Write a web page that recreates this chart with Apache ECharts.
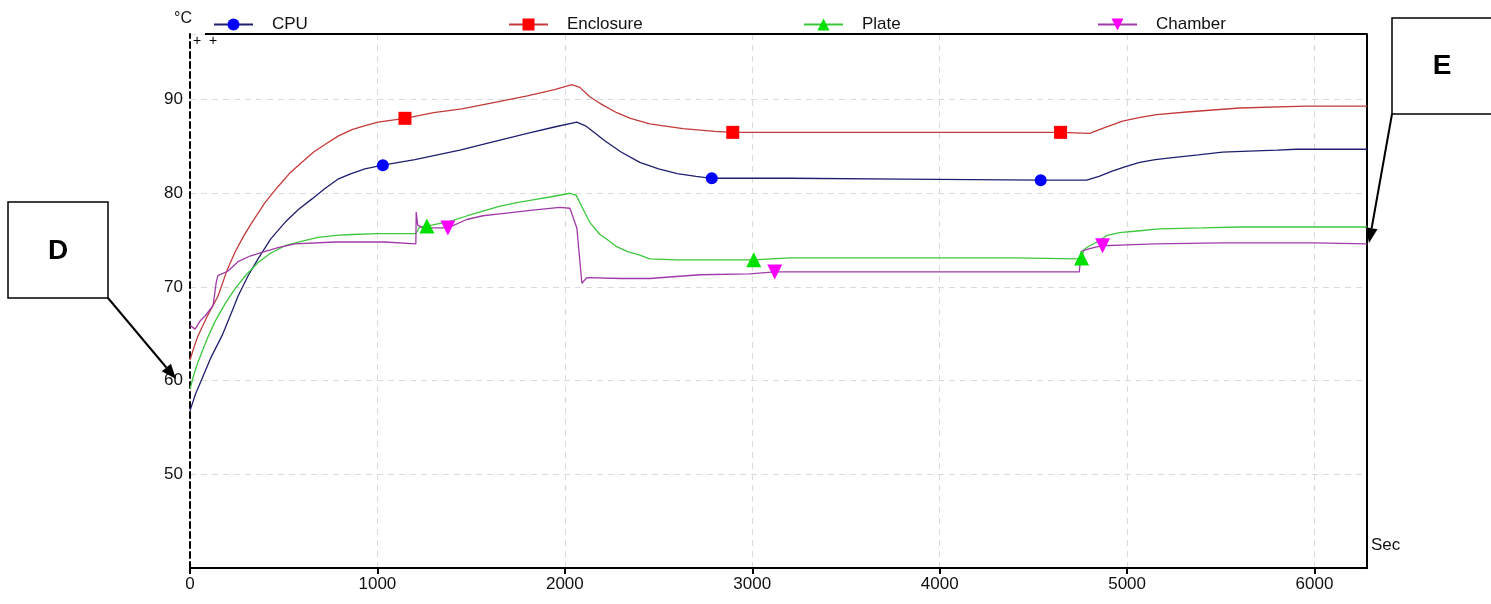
<!DOCTYPE html>
<html>
<head>
<meta charset="utf-8">
<title>Temperature</title>
<script src="https://cdn.jsdelivr.net/npm/echarts@6/dist/echarts.min.js"></script>
<style>
  html, body { margin: 0; padding: 0; background: #fff; }
  #chart { width: 1491px; height: 604px; }
</style>
</head>
<body>
<div id="chart"></div>
<script>
// series values: [seconds, degC]
var cpuData = [
  [0, 56.8], [30, 58.6], [64, 60.2], [110, 62.4], [171, 64.8], [220, 67.2], [256, 69.0],
  [310, 71.2], [363, 73.0], [430, 75.1], [507, 76.9], [580, 78.3], [651, 79.4], [720, 80.5],
  [789, 81.5], [860, 82.1], [933, 82.6], [1029, 83.0], [1200, 83.6], [1440, 84.6], [1600, 85.4],
  [1800, 86.4], [1950, 87.1], [2064, 87.6], [2110, 87.2], [2150, 86.6], [2213, 85.6], [2300, 84.4],
  [2400, 83.3], [2500, 82.6], [2600, 82.1], [2700, 81.8], [2784, 81.6], [3200, 81.6], [3800, 81.5],
  [4539, 81.4], [4784, 81.4], [4850, 81.8], [4924, 82.4], [5000, 82.9], [5067, 83.3], [5150, 83.6],
  [5243, 83.8], [5380, 84.1], [5509, 84.4], [5650, 84.5], [5800, 84.6], [5904, 84.7], [6280, 84.7]
];
var enclosureData = [
  [0, 62.2], [20, 63.5], [43, 64.8], [90, 66.8], [149, 69.0], [200, 71.9], [240, 73.7],
  [285, 75.4], [331, 76.9], [400, 79.0], [469, 80.7], [530, 82.1], [597, 83.3], [660, 84.4],
  [720, 85.2], [790, 86.1], [864, 86.8], [930, 87.2], [1003, 87.6], [1147, 88.0], [1300, 88.6],
  [1450, 89.0], [1600, 89.6], [1800, 90.4], [1950, 91.1], [2037, 91.6], [2080, 91.3], [2133, 90.3],
  [2187, 89.6], [2277, 88.6], [2350, 88.0], [2453, 87.4], [2630, 86.9], [2800, 86.6], [2896, 86.5],
  [3500, 86.5], [4645, 86.5], [4800, 86.4], [4880, 87.0], [4976, 87.7], [5070, 88.1], [5157, 88.4],
  [5333, 88.7], [5600, 89.1], [5957, 89.3], [6280, 89.3]
];
var plateData = [
  [0, 59.1], [20, 60.6], [43, 62.0], [90, 64.4], [133, 66.3], [190, 68.3], [240, 69.8],
  [300, 71.3], [363, 72.6], [430, 73.6], [507, 74.4], [600, 74.9], [683, 75.3], [780, 75.5],
  [864, 75.6], [1000, 75.7], [1205, 75.7], [1225, 76.4], [1264, 76.5], [1387, 77.0], [1480, 77.6],
  [1563, 78.1], [1650, 78.6], [1744, 79.0], [1830, 79.3], [1920, 79.6], [2027, 80.0], [2060, 79.8],
  [2080, 79.0], [2105, 78.0], [2133, 76.9], [2187, 75.6], [2224, 75.1], [2277, 74.3], [2331, 73.8],
  [2400, 73.4], [2453, 73.0], [2600, 72.9], [3008, 72.9], [3200, 73.1], [3600, 73.1], [4000, 73.1],
  [4400, 73.1], [4736, 73.0], [4757, 73.1], [4770, 74.0], [4800, 74.4], [4850, 74.9], [4891, 75.5],
  [4960, 75.8], [5067, 76.0], [5173, 76.2], [5400, 76.3], [5600, 76.4], [6280, 76.4]
];
var chamberData = [
  [0, 65.9], [27, 65.5], [55, 66.4], [80, 66.9], [123, 68.0], [140, 70.5], [149, 71.2],
  [203, 71.7], [256, 72.7], [320, 73.3], [384, 73.7], [470, 74.2], [560, 74.6], [773, 74.8],
  [1040, 74.8], [1205, 74.6], [1207, 78.0], [1215, 76.6], [1240, 76.3], [1376, 76.3], [1477, 77.2],
  [1563, 77.6], [1653, 77.8], [1829, 78.2], [1973, 78.5], [2027, 78.4], [2064, 76.3], [2080, 72.8],
  [2091, 70.4], [2117, 71.0], [2300, 70.9], [2453, 70.9], [2720, 71.3], [2987, 71.4], [3120, 71.6],
  [3520, 71.6], [4000, 71.6], [4400, 71.6], [4745, 71.6], [4755, 73.8], [4800, 74.1], [4869, 74.4],
  [5000, 74.5], [5150, 74.6], [5500, 74.7], [6000, 74.7], [6280, 74.6]
];

// times where the plotter drew a marker on each curve
var cpuMarks = [1029, 2784, 4539];
var enclosureMarks = [1147, 2896, 4645];
var plateMarks = [1264, 3008, 4757];
var chamberMarks = [1376, 3120, 4869];

var seriesNames = ["CPU", "Enclosure", "Plate", "Chamber"];
var xTicks = [0, 1000, 2000, 3000, 4000, 5000, 6000];
var yTicks = [50, 60, 70, 80, 90];

var font = "'Liberation Sans', Arial, sans-serif";
var chart = echarts.init(document.getElementById("chart"));

function markSize(marks, size) {
  return function(v) {
    return marks.indexOf(v[0]) >= 0 ? size : 0;
  };
}

function makeSeries(name, data, marks, symbol, size, lineColor, markColor, rotate) {
  return {
    name: name,
    type: "line",
    data: data,
    xAxisIndex: 0,
    yAxisIndex: 0,
    symbol: symbol,
    symbolRotate: rotate || 0,
    symbolSize: markSize(marks, size),
    showSymbol: true,
    showAllSymbol: true,
    lineStyle: { color: lineColor, width: 1.3 },
    itemStyle: { color: markColor, borderWidth: 0 },
    emphasis: { disabled: true },
    z: 3
  };
}

var legendLeft = [208, 503, 798, 1092];

function arrow(x1, y1, x2, y2) {
  // line plus a filled head at (x2, y2)
  var dx = x2 - x1, dy = y2 - y1;
  var len = Math.sqrt(dx * dx + dy * dy);
  var ux = dx / len, uy = dy / len;
  var bx = x2 - ux * 15, by = y2 - uy * 15;
  return [
    { type: "line", shape: { x1: x1, y1: y1, x2: bx, y2: by }, style: { stroke: "#000", lineWidth: 2 }, z: 10 },
    {
      type: "polygon",
      shape: { points: [[x2, y2], [bx - uy * 6, by + ux * 6], [bx + uy * 6, by - ux * 6]] },
      style: { fill: "#000" },
      z: 10
    }
  ];
}

chart.setOption({
  animation: false,
  backgroundColor: "#fff",
  textStyle: { fontFamily: font },
  grid: { left: 190, right: 124, top: 34, bottom: 36 },
  legend: seriesNames.map(function(n, i) {
    return {
      data: [n],
      left: legendLeft[i],
      top: 11,
      itemWidth: 39,
      itemHeight: 15,
      selectedMode: false,
      textStyle: { fontFamily: font, fontSize: 17, color: "#111", padding: [0, 0, 0, 14] }
    };
  }),
  xAxis: [
    {
      type: "value",
      min: 0,
      max: 6280,
      interval: 1000,
      name: "Sec",
      nameLocation: "end",
      nameGap: 4,
      nameTextStyle: { fontFamily: font, fontSize: 17, color: "#111", align: "left", verticalAlign: "bottom", padding: [0, 0, 14, 0] },
      axisLine: { lineStyle: { color: "#000", width: 2 } },
      axisTick: { show: true, length: 6, lineStyle: { color: "#000", width: 2 } },
      axisLabel: {
        showMaxLabel: false,
        margin: 8,
        fontFamily: font,
        fontSize: 17,
        color: "#111",
        formatter: function(v) { return xTicks.indexOf(v) >= 0 ? String(v) : ""; }
      },
      splitLine: { show: true, lineStyle: { color: "#dadada", type: [6, 5], width: 1 } }
    }
  ],
  yAxis: [
    {
      type: "value",
      min: 40,
      max: 97,
      interval: 10,
      name: "°C",
      nameLocation: "end",
      nameGap: 7,
      nameTextStyle: { fontFamily: font, fontSize: 16, color: "#111", align: "right", padding: [0, -2, 0, 0] },
      axisLine: { show: true, lineStyle: { color: "#000", width: 2, type: [6, 4] } },
      axisTick: { show: false },
      axisLabel: {
        showMinLabel: false,
        showMaxLabel: false,
        margin: 7,
        fontFamily: font,
        fontSize: 17,
        color: "#111",
        formatter: function(v) { return yTicks.indexOf(v) >= 0 ? String(v) : ""; }
      },
      splitLine: { show: true, lineStyle: { color: "#dadada", type: [6, 5], width: 1 } }
    },
    {
      type: "value",
      position: "right",
      min: 40,
      max: 97,
      axisLine: { show: true, onZero: false, lineStyle: { color: "#000", width: 2 } },
      axisTick: { show: false },
      axisLabel: { show: false },
      splitLine: { show: false }
    }
  ],
  series: [
    makeSeries("CPU", cpuData, cpuMarks, "circle", 12, "#1f1f70", "#0000ff"),
    makeSeries("Enclosure", enclosureData, enclosureMarks, "rect", 13, "#c43a3a", "#ff0000"),
    makeSeries("Plate", plateData, plateMarks, "triangle", 15, "#3cc83c", "#00e000"),
    makeSeries("Chamber", chamberData, chamberMarks, "triangle", 15, "#a03aa8", "#ff00ff", 180)
  ],
  graphic: [
    // top frame line starts a little right of the dashed axis
    { type: "line", shape: { x1: 205, y1: 34, x2: 1367, y2: 34 }, style: { stroke: "#000", lineWidth: 2 }, z: 5 },
    { type: "text", left: 193, top: 34, style: { text: "+", font: "14px " + font, fill: "#000" } },
    { type: "text", left: 209, top: 34, style: { text: "+", font: "14px " + font, fill: "#000" } },
    // annotation box D
    { type: "rect", shape: { x: 8, y: 202, width: 100, height: 96 }, style: { fill: "#fff", stroke: "#000", lineWidth: 1.5 }, z: 10 },
    { type: "text", x: 58, y: 251, style: { text: "D", font: "bold 28px " + font, fill: "#000", align: "center", verticalAlign: "middle" }, z: 11 },
    // annotation box E (runs off the right edge)
    { type: "rect", shape: { x: 1392, y: 18, width: 120, height: 96 }, style: { fill: "#fff", stroke: "#000", lineWidth: 1.5 }, z: 10 },
    { type: "text", x: 1442, y: 66, style: { text: "E", font: "bold 28px " + font, fill: "#000", align: "center", verticalAlign: "middle" }, z: 11 }
  ].concat(arrow(108, 298, 176, 379), arrow(1392, 114, 1369, 243))
});
</script>
</body>
</html>
